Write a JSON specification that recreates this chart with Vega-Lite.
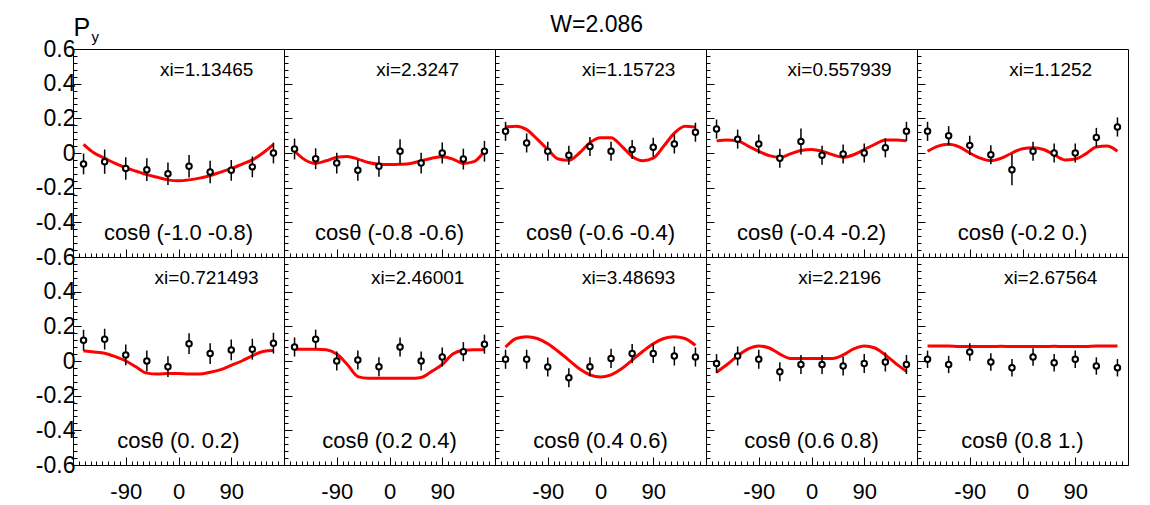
{
"$schema": "https://vega.github.io/schema/vega-lite/v6.json",
"padding": {"left": 34, "top": 13, "right": 5, "bottom": 2},
"background": "white",
"title": {"text": "W=2.086", "fontSize": 23, "fontWeight": "normal", "font": "Liberation Sans", "color": "black", "anchor": "middle", "dx": 15, "offset": -22},
"config": {"view": {"stroke": "black", "strokeWidth": 1}, "font": "Liberation Sans"},
"datasets": {
"pts": [
{"p":1,"phi":-162,"py":-0.063,"err":0.06},{"p":1,"phi":-126,"py":-0.05,"err":0.07},{"p":1,"phi":-90,"py":-0.09,"err":0.065},{"p":1,"phi":-54,"py":-0.096,"err":0.065},{"p":1,"phi":-18,"py":-0.12,"err":0.065},{"p":1,"phi":18,"py":-0.077,"err":0.065},{"p":1,"phi":54,"py":-0.11,"err":0.065},{"p":1,"phi":90,"py":-0.1,"err":0.06},{"p":1,"phi":126,"py":-0.08,"err":0.06},{"p":1,"phi":162,"py":0.0,"err":0.06},
{"p":2,"phi":-162,"py":0.023,"err":0.06},{"p":2,"phi":-126,"py":-0.033,"err":0.06},{"p":2,"phi":-90,"py":-0.058,"err":0.06},{"p":2,"phi":-54,"py":-0.1,"err":0.06},{"p":2,"phi":-18,"py":-0.077,"err":0.06},{"p":2,"phi":18,"py":0.01,"err":0.07},{"p":2,"phi":54,"py":-0.058,"err":0.06},{"p":2,"phi":90,"py":0.0,"err":0.06},{"p":2,"phi":126,"py":-0.035,"err":0.06},{"p":2,"phi":162,"py":0.01,"err":0.06},
{"p":3,"phi":-162,"py":0.125,"err":0.055},{"p":3,"phi":-126,"py":0.058,"err":0.055},{"p":3,"phi":-90,"py":0.01,"err":0.055},{"p":3,"phi":-54,"py":-0.013,"err":0.055},{"p":3,"phi":-18,"py":0.038,"err":0.055},{"p":3,"phi":18,"py":0.01,"err":0.055},{"p":3,"phi":54,"py":0.02,"err":0.055},{"p":3,"phi":90,"py":0.033,"err":0.055},{"p":3,"phi":126,"py":0.052,"err":0.055},{"p":3,"phi":162,"py":0.12,"err":0.055},
{"p":4,"phi":-162,"py":0.138,"err":0.055},{"p":4,"phi":-126,"py":0.08,"err":0.055},{"p":4,"phi":-90,"py":0.052,"err":0.055},{"p":4,"phi":-54,"py":-0.03,"err":0.055},{"p":4,"phi":-18,"py":0.067,"err":0.075},{"p":4,"phi":18,"py":-0.013,"err":0.055},{"p":4,"phi":54,"py":-0.006,"err":0.055},{"p":4,"phi":90,"py":0.0,"err":0.055},{"p":4,"phi":126,"py":0.03,"err":0.055},{"p":4,"phi":162,"py":0.125,"err":0.055},
{"p":5,"phi":-162,"py":0.125,"err":0.055},{"p":5,"phi":-126,"py":0.1,"err":0.055},{"p":5,"phi":-90,"py":0.044,"err":0.055},{"p":5,"phi":-54,"py":-0.01,"err":0.055},{"p":5,"phi":-18,"py":-0.096,"err":0.09},{"p":5,"phi":18,"py":0.01,"err":0.055},{"p":5,"phi":54,"py":0.0,"err":0.055},{"p":5,"phi":90,"py":0.0,"err":0.055},{"p":5,"phi":126,"py":0.09,"err":0.055},{"p":5,"phi":162,"py":0.15,"err":0.055},
{"p":6,"phi":-162,"py":0.12,"err":0.06},{"p":6,"phi":-126,"py":0.126,"err":0.06},{"p":6,"phi":-90,"py":0.035,"err":0.06},{"p":6,"phi":-54,"py":0.0,"err":0.06},{"p":6,"phi":-18,"py":-0.033,"err":0.06},{"p":6,"phi":18,"py":0.1,"err":0.06},{"p":6,"phi":54,"py":0.043,"err":0.06},{"p":6,"phi":90,"py":0.064,"err":0.06},{"p":6,"phi":126,"py":0.068,"err":0.06},{"p":6,"phi":162,"py":0.103,"err":0.06},
{"p":7,"phi":-162,"py":0.081,"err":0.055},{"p":7,"phi":-126,"py":0.126,"err":0.055},{"p":7,"phi":-90,"py":0.0,"err":0.055},{"p":7,"phi":-54,"py":0.006,"err":0.055},{"p":7,"phi":-18,"py":-0.033,"err":0.055},{"p":7,"phi":18,"py":0.081,"err":0.055},{"p":7,"phi":54,"py":0.0,"err":0.055},{"p":7,"phi":90,"py":0.023,"err":0.055},{"p":7,"phi":126,"py":0.054,"err":0.055},{"p":7,"phi":162,"py":0.097,"err":0.055},
{"p":8,"phi":-162,"py":0.01,"err":0.055},{"p":8,"phi":-126,"py":0.01,"err":0.055},{"p":8,"phi":-90,"py":-0.035,"err":0.055},{"p":8,"phi":-54,"py":-0.097,"err":0.055},{"p":8,"phi":-18,"py":-0.033,"err":0.055},{"p":8,"phi":18,"py":0.015,"err":0.055},{"p":8,"phi":54,"py":0.043,"err":0.055},{"p":8,"phi":90,"py":0.043,"err":0.055},{"p":8,"phi":126,"py":0.029,"err":0.055},{"p":8,"phi":162,"py":0.023,"err":0.055},
{"p":9,"phi":-162,"py":-0.015,"err":0.055},{"p":9,"phi":-126,"py":0.029,"err":0.055},{"p":9,"phi":-90,"py":0.01,"err":0.055},{"p":9,"phi":-54,"py":-0.062,"err":0.055},{"p":9,"phi":-18,"py":-0.02,"err":0.055},{"p":9,"phi":18,"py":-0.02,"err":0.055},{"p":9,"phi":54,"py":-0.029,"err":0.055},{"p":9,"phi":90,"py":-0.014,"err":0.055},{"p":9,"phi":126,"py":-0.006,"err":0.055},{"p":9,"phi":162,"py":-0.02,"err":0.055},
{"p":10,"phi":-162,"py":0.01,"err":0.05},{"p":10,"phi":-126,"py":-0.02,"err":0.05},{"p":10,"phi":-90,"py":0.052,"err":0.05},{"p":10,"phi":-54,"py":-0.006,"err":0.05},{"p":10,"phi":-18,"py":-0.039,"err":0.05},{"p":10,"phi":18,"py":0.023,"err":0.05},{"p":10,"phi":54,"py":-0.01,"err":0.05},{"p":10,"phi":90,"py":0.01,"err":0.05},{"p":10,"phi":126,"py":-0.029,"err":0.05},{"p":10,"phi":162,"py":-0.039,"err":0.05}
],
"fit": [
{"p":1,"phi":-162,"py":0.05},{"p":1,"phi":-144,"py":0.0},{"p":1,"phi":-126,"py":-0.03},{"p":1,"phi":-108,"py":-0.06},{"p":1,"phi":-90,"py":-0.085},{"p":1,"phi":-72,"py":-0.105},{"p":1,"phi":-54,"py":-0.125},{"p":1,"phi":-36,"py":-0.14},{"p":1,"phi":-18,"py":-0.155},{"p":1,"phi":0,"py":-0.16},{"p":1,"phi":18,"py":-0.155},{"p":1,"phi":36,"py":-0.145},{"p":1,"phi":54,"py":-0.13},{"p":1,"phi":72,"py":-0.11},{"p":1,"phi":90,"py":-0.09},{"p":1,"phi":108,"py":-0.065},{"p":1,"phi":126,"py":-0.04},{"p":1,"phi":144,"py":0.0},{"p":1,"phi":162,"py":0.05},
{"p":2,"phi":-162,"py":0.01},{"p":2,"phi":-144,"py":-0.04},{"p":2,"phi":-126,"py":-0.06},{"p":2,"phi":-108,"py":-0.045},{"p":2,"phi":-90,"py":-0.025},{"p":2,"phi":-72,"py":-0.02},{"p":2,"phi":-54,"py":-0.035},{"p":2,"phi":-36,"py":-0.055},{"p":2,"phi":-18,"py":-0.065},{"p":2,"phi":0,"py":-0.067},{"p":2,"phi":18,"py":-0.065},{"p":2,"phi":36,"py":-0.06},{"p":2,"phi":54,"py":-0.045},{"p":2,"phi":72,"py":-0.03},{"p":2,"phi":90,"py":-0.022},{"p":2,"phi":108,"py":-0.035},{"p":2,"phi":126,"py":-0.06},{"p":2,"phi":144,"py":-0.05},{"p":2,"phi":162,"py":0.01},
{"p":3,"phi":-162,"py":0.15},{"p":3,"phi":-144,"py":0.155},{"p":3,"phi":-126,"py":0.135},{"p":3,"phi":-108,"py":0.08},{"p":3,"phi":-90,"py":0.02},{"p":3,"phi":-72,"py":-0.035},{"p":3,"phi":-54,"py":-0.042},{"p":3,"phi":-36,"py":0.0},{"p":3,"phi":-18,"py":0.06},{"p":3,"phi":0,"py":0.088},{"p":3,"phi":18,"py":0.088},{"p":3,"phi":36,"py":0.04},{"p":3,"phi":54,"py":-0.02},{"p":3,"phi":72,"py":-0.044},{"p":3,"phi":90,"py":-0.03},{"p":3,"phi":108,"py":0.04},{"p":3,"phi":126,"py":0.115},{"p":3,"phi":144,"py":0.155},{"p":3,"phi":162,"py":0.15},
{"p":4,"phi":-162,"py":0.07},{"p":4,"phi":-144,"py":0.075},{"p":4,"phi":-126,"py":0.07},{"p":4,"phi":-108,"py":0.04},{"p":4,"phi":-90,"py":0.01},{"p":4,"phi":-72,"py":-0.015},{"p":4,"phi":-54,"py":-0.025},{"p":4,"phi":-36,"py":-0.005},{"p":4,"phi":-18,"py":0.015},{"p":4,"phi":0,"py":0.02},{"p":4,"phi":18,"py":0.01},{"p":4,"phi":36,"py":-0.01},{"p":4,"phi":54,"py":-0.025},{"p":4,"phi":72,"py":-0.01},{"p":4,"phi":90,"py":0.02},{"p":4,"phi":108,"py":0.05},{"p":4,"phi":126,"py":0.075},{"p":4,"phi":144,"py":0.075},{"p":4,"phi":162,"py":0.07},
{"p":5,"phi":-162,"py":0.01},{"p":5,"phi":-144,"py":0.04},{"p":5,"phi":-126,"py":0.05},{"p":5,"phi":-108,"py":0.035},{"p":5,"phi":-90,"py":0.0},{"p":5,"phi":-72,"py":-0.03},{"p":5,"phi":-54,"py":-0.045},{"p":5,"phi":-36,"py":-0.03},{"p":5,"phi":-18,"py":0.0},{"p":5,"phi":0,"py":0.025},{"p":5,"phi":18,"py":0.03},{"p":5,"phi":36,"py":0.02},{"p":5,"phi":54,"py":-0.01},{"p":5,"phi":72,"py":-0.04},{"p":5,"phi":90,"py":-0.035},{"p":5,"phi":108,"py":-0.005},{"p":5,"phi":126,"py":0.035},{"p":5,"phi":144,"py":0.04},{"p":5,"phi":162,"py":0.01},
{"p":6,"phi":-162,"py":0.058},{"p":6,"phi":-144,"py":0.052},{"p":6,"phi":-126,"py":0.045},{"p":6,"phi":-108,"py":0.025},{"p":6,"phi":-90,"py":0.0},{"p":6,"phi":-72,"py":-0.035},{"p":6,"phi":-54,"py":-0.07},{"p":6,"phi":-36,"py":-0.075},{"p":6,"phi":-18,"py":-0.072},{"p":6,"phi":0,"py":-0.072},{"p":6,"phi":18,"py":-0.075},{"p":6,"phi":36,"py":-0.075},{"p":6,"phi":54,"py":-0.065},{"p":6,"phi":72,"py":-0.05},{"p":6,"phi":90,"py":-0.025},{"p":6,"phi":108,"py":0.0},{"p":6,"phi":126,"py":0.03},{"p":6,"phi":144,"py":0.055},{"p":6,"phi":162,"py":0.06},
{"p":7,"phi":-162,"py":0.068},{"p":7,"phi":-144,"py":0.068},{"p":7,"phi":-126,"py":0.068},{"p":7,"phi":-108,"py":0.065},{"p":7,"phi":-90,"py":0.04},{"p":7,"phi":-72,"py":-0.02},{"p":7,"phi":-54,"py":-0.09},{"p":7,"phi":-36,"py":-0.1},{"p":7,"phi":-18,"py":-0.1},{"p":7,"phi":0,"py":-0.1},{"p":7,"phi":18,"py":-0.1},{"p":7,"phi":36,"py":-0.1},{"p":7,"phi":54,"py":-0.095},{"p":7,"phi":72,"py":-0.06},{"p":7,"phi":90,"py":-0.02},{"p":7,"phi":108,"py":0.04},{"p":7,"phi":126,"py":0.062},{"p":7,"phi":144,"py":0.065},{"p":7,"phi":162,"py":0.065},
{"p":8,"phi":-162,"py":0.08},{"p":8,"phi":-144,"py":0.13},{"p":8,"phi":-126,"py":0.14},{"p":8,"phi":-108,"py":0.13},{"p":8,"phi":-90,"py":0.1},{"p":8,"phi":-72,"py":0.055},{"p":8,"phi":-54,"py":0.005},{"p":8,"phi":-36,"py":-0.045},{"p":8,"phi":-18,"py":-0.08},{"p":8,"phi":0,"py":-0.093},{"p":8,"phi":18,"py":-0.08},{"p":8,"phi":36,"py":-0.045},{"p":8,"phi":54,"py":0.005},{"p":8,"phi":72,"py":0.055},{"p":8,"phi":90,"py":0.1},{"p":8,"phi":108,"py":0.13},{"p":8,"phi":126,"py":0.14},{"p":8,"phi":144,"py":0.13},{"p":8,"phi":162,"py":0.09},
{"p":9,"phi":-162,"py":-0.065},{"p":9,"phi":-144,"py":-0.02},{"p":9,"phi":-126,"py":0.03},{"p":9,"phi":-108,"py":0.07},{"p":9,"phi":-90,"py":0.087},{"p":9,"phi":-72,"py":0.075},{"p":9,"phi":-54,"py":0.04},{"p":9,"phi":-36,"py":0.015},{"p":9,"phi":-18,"py":0.015},{"p":9,"phi":0,"py":0.015},{"p":9,"phi":18,"py":0.015},{"p":9,"phi":36,"py":0.015},{"p":9,"phi":54,"py":0.035},{"p":9,"phi":72,"py":0.07},{"p":9,"phi":90,"py":0.087},{"p":9,"phi":108,"py":0.075},{"p":9,"phi":126,"py":0.035},{"p":9,"phi":144,"py":-0.015},{"p":9,"phi":162,"py":-0.06},
{"p":10,"phi":-162,"py":0.087},{"p":10,"phi":-144,"py":0.087},{"p":10,"phi":-126,"py":0.087},{"p":10,"phi":-108,"py":0.083},{"p":10,"phi":-90,"py":0.083},{"p":10,"phi":-72,"py":0.083},{"p":10,"phi":-54,"py":0.083},{"p":10,"phi":-36,"py":0.085},{"p":10,"phi":-18,"py":0.083},{"p":10,"phi":0,"py":0.083},{"p":10,"phi":18,"py":0.083},{"p":10,"phi":36,"py":0.083},{"p":10,"phi":54,"py":0.085},{"p":10,"phi":72,"py":0.083},{"p":10,"phi":90,"py":0.083},{"p":10,"phi":108,"py":0.083},{"p":10,"phi":126,"py":0.087},{"p":10,"phi":144,"py":0.087},{"p":10,"phi":162,"py":0.087}
],
"lab": [
{"p":1,"xi":"xi=1.13465","cos":"cosθ (-1.0 -0.8)"},
{"p":2,"xi":"xi=2.3247","cos":"cosθ (-0.8 -0.6)"},
{"p":3,"xi":"xi=1.15723","cos":"cosθ (-0.6 -0.4)"},
{"p":4,"xi":"xi=0.557939","cos":"cosθ (-0.4 -0.2)"},
{"p":5,"xi":"xi=1.1252","cos":"cosθ (-0.2  0.)"},
{"p":6,"xi":"xi=0.721493","cos":"cosθ (0. 0.2)"},
{"p":7,"xi":"xi=2.46001","cos":"cosθ (0.2 0.4)"},
{"p":8,"xi":"xi=3.48693","cos":"cosθ (0.4 0.6)"},
{"p":9,"xi":"xi=2.2196","cos":"cosθ (0.6 0.8)"},
{"p":10,"xi":"xi=2.67564","cos":"cosθ (0.8  1.)"}
]
},
"columns": 5,
"spacing": 0,
"bounds": "flush",
"concat": [
{"width": 211, "height": 208, "resolve": {"axis": {"x": "independent", "y": "independent"}}, "layer": [
{"data": {"name": "fit"}, "transform": [{"filter": "datum.p == 1"}], "mark": {"type": "line", "color": "#ff0000", "strokeWidth": 3, "interpolate": "monotone"},
 "encoding": {"x": {"field": "phi", "type": "quantitative", "scale": {"domain": [-180, 180], "nice": false, "zero": false}, "axis": {"orient": "bottom", "values": [-90, 0, 90], "tickSize": -8, "tickColor": "black", "domainColor": "black", "labels": false, "grid": false, "title": null}},
  "y": {"field": "py", "type": "quantitative", "scale": {"domain": [-0.6, 0.6], "nice": false, "zero": false}, "axis": {"orient": "left", "values": [-0.6, -0.4, -0.2, 0, 0.2, 0.4, 0.6], "tickSize": -8, "tickColor": "black", "domainColor": "black", "labels": true, "labelFontSize": 23, "labelFont": "Liberation Sans", "labelColor": "black", "labelPadding": 6, "labelOverlap": false, "labelExpr": "replace(format(datum.value, '~g'), '\u2212', '-')", "grid": false, "title": "P", "titleAngle": 0, "titleX": 0, "titleY": -14, "titleAlign": "left", "titleBaseline": "alphabetic", "titleFontSize": 25, "titleFont": "Liberation Sans", "titleFontWeight": "normal", "titleColor": "black"}}}},
{"data": {"name": "pts"}, "transform": [{"filter": "datum.p == 1"}], "mark": {"type": "errorbar", "color": "black", "thickness": 1.5},
 "encoding": {"x": {"field": "phi", "type": "quantitative", "axis": null}, "y": {"field": "py", "type": "quantitative", "axis": null}, "yError": {"field": "err"}}},
{"data": {"name": "pts"}, "transform": [{"filter": "datum.p == 1"}], "mark": {"type": "point", "shape": "circle", "filled": true, "fill": "white", "stroke": "black", "strokeWidth": 2, "size": 30, "opacity": 1},
 "encoding": {"x": {"field": "phi", "type": "quantitative", "axis": {"orient": "bottom", "values": [-170,-160,-150,-140,-130,-120,-110,-100,-90,-80,-70,-60,-50,-40,-30,-20,-10,0,10,20,30,40,50,60,70,80,90,100,110,120,130,140,150,160,170], "tickSize": -4, "tickColor": "black", "domain": false, "labels": false, "grid": false, "title": null}},
  "y": {"field": "py", "type": "quantitative", "axis": {"orient": "left", "values": [-0.56,-0.52,-0.48,-0.44,-0.4,-0.36,-0.32,-0.28,-0.24,-0.2,-0.16,-0.12,-0.08,-0.04,0,0.04,0.08,0.12,0.16,0.2,0.24,0.28,0.32,0.36,0.4,0.44,0.48,0.52,0.56], "tickSize": -4, "tickColor": "black", "domain": false, "labels": false, "grid": false, "title": "y", "titleAngle": 0, "titleX": 18, "titleY": -8, "titleAlign": "left", "titleBaseline": "alphabetic", "titleFontSize": 15, "titleFont": "Liberation Sans", "titleFontWeight": "normal", "titleColor": "black"}}}},
{"data": {"name": "lab"}, "transform": [{"filter": "datum.p == 1"}], "mark": {"type": "text", "fontSize": 19, "font": "Liberation Sans", "color": "black", "baseline": "middle"},
 "encoding": {"x": {"datum": 48, "type": "quantitative", "axis": null}, "y": {"datum": 0.48, "type": "quantitative", "axis": null}, "text": {"field": "xi"}}},
{"data": {"name": "lab"}, "transform": [{"filter": "datum.p == 1"}], "mark": {"type": "text", "fontSize": 22, "font": "Liberation Sans", "color": "black", "baseline": "middle"},
 "encoding": {"x": {"datum": 0, "type": "quantitative", "axis": null}, "y": {"datum": -0.46, "type": "quantitative", "axis": null}, "text": {"field": "cos"}}}
]},
{"width": 211, "height": 208, "resolve": {"axis": {"x": "independent", "y": "independent"}}, "layer": [
{"data": {"name": "fit"}, "transform": [{"filter": "datum.p == 2"}], "mark": {"type": "line", "color": "#ff0000", "strokeWidth": 3, "interpolate": "monotone"},
 "encoding": {"x": {"field": "phi", "type": "quantitative", "scale": {"domain": [-180, 180], "nice": false, "zero": false}, "axis": {"orient": "bottom", "values": [-90, 0, 90], "tickSize": -8, "tickColor": "black", "domainColor": "black", "labels": false, "grid": false, "title": null}},
  "y": {"field": "py", "type": "quantitative", "scale": {"domain": [-0.6, 0.6], "nice": false, "zero": false}, "axis": {"orient": "left", "values": [-0.6, -0.4, -0.2, 0, 0.2, 0.4, 0.6], "tickSize": -8, "tickColor": "black", "domainColor": "black", "labels": false, "grid": false, "title": null}}}},
{"data": {"name": "pts"}, "transform": [{"filter": "datum.p == 2"}], "mark": {"type": "errorbar", "color": "black", "thickness": 1.5},
 "encoding": {"x": {"field": "phi", "type": "quantitative", "axis": null}, "y": {"field": "py", "type": "quantitative", "axis": null}, "yError": {"field": "err"}}},
{"data": {"name": "pts"}, "transform": [{"filter": "datum.p == 2"}], "mark": {"type": "point", "shape": "circle", "filled": true, "fill": "white", "stroke": "black", "strokeWidth": 2, "size": 30, "opacity": 1},
 "encoding": {"x": {"field": "phi", "type": "quantitative", "axis": {"orient": "bottom", "values": [-170,-160,-150,-140,-130,-120,-110,-100,-90,-80,-70,-60,-50,-40,-30,-20,-10,0,10,20,30,40,50,60,70,80,90,100,110,120,130,140,150,160,170], "tickSize": -4, "tickColor": "black", "domain": false, "labels": false, "grid": false, "title": null}},
  "y": {"field": "py", "type": "quantitative", "axis": {"orient": "left", "values": [-0.56,-0.52,-0.48,-0.44,-0.4,-0.36,-0.32,-0.28,-0.24,-0.2,-0.16,-0.12,-0.08,-0.04,0,0.04,0.08,0.12,0.16,0.2,0.24,0.28,0.32,0.36,0.4,0.44,0.48,0.52,0.56], "tickSize": -4, "tickColor": "black", "domain": false, "labels": false, "grid": false, "title": null}}}},
{"data": {"name": "lab"}, "transform": [{"filter": "datum.p == 2"}], "mark": {"type": "text", "fontSize": 19, "font": "Liberation Sans", "color": "black", "baseline": "middle"},
 "encoding": {"x": {"datum": 48, "type": "quantitative", "axis": null}, "y": {"datum": 0.48, "type": "quantitative", "axis": null}, "text": {"field": "xi"}}},
{"data": {"name": "lab"}, "transform": [{"filter": "datum.p == 2"}], "mark": {"type": "text", "fontSize": 22, "font": "Liberation Sans", "color": "black", "baseline": "middle"},
 "encoding": {"x": {"datum": 0, "type": "quantitative", "axis": null}, "y": {"datum": -0.46, "type": "quantitative", "axis": null}, "text": {"field": "cos"}}}
]},
{"width": 211, "height": 208, "resolve": {"axis": {"x": "independent", "y": "independent"}}, "layer": [
{"data": {"name": "fit"}, "transform": [{"filter": "datum.p == 3"}], "mark": {"type": "line", "color": "#ff0000", "strokeWidth": 3, "interpolate": "monotone"},
 "encoding": {"x": {"field": "phi", "type": "quantitative", "scale": {"domain": [-180, 180], "nice": false, "zero": false}, "axis": {"orient": "bottom", "values": [-90, 0, 90], "tickSize": -8, "tickColor": "black", "domainColor": "black", "labels": false, "grid": false, "title": null}},
  "y": {"field": "py", "type": "quantitative", "scale": {"domain": [-0.6, 0.6], "nice": false, "zero": false}, "axis": {"orient": "left", "values": [-0.6, -0.4, -0.2, 0, 0.2, 0.4, 0.6], "tickSize": -8, "tickColor": "black", "domainColor": "black", "labels": false, "grid": false, "title": null}}}},
{"data": {"name": "pts"}, "transform": [{"filter": "datum.p == 3"}], "mark": {"type": "errorbar", "color": "black", "thickness": 1.5},
 "encoding": {"x": {"field": "phi", "type": "quantitative", "axis": null}, "y": {"field": "py", "type": "quantitative", "axis": null}, "yError": {"field": "err"}}},
{"data": {"name": "pts"}, "transform": [{"filter": "datum.p == 3"}], "mark": {"type": "point", "shape": "circle", "filled": true, "fill": "white", "stroke": "black", "strokeWidth": 2, "size": 30, "opacity": 1},
 "encoding": {"x": {"field": "phi", "type": "quantitative", "axis": {"orient": "bottom", "values": [-170,-160,-150,-140,-130,-120,-110,-100,-90,-80,-70,-60,-50,-40,-30,-20,-10,0,10,20,30,40,50,60,70,80,90,100,110,120,130,140,150,160,170], "tickSize": -4, "tickColor": "black", "domain": false, "labels": false, "grid": false, "title": null}},
  "y": {"field": "py", "type": "quantitative", "axis": {"orient": "left", "values": [-0.56,-0.52,-0.48,-0.44,-0.4,-0.36,-0.32,-0.28,-0.24,-0.2,-0.16,-0.12,-0.08,-0.04,0,0.04,0.08,0.12,0.16,0.2,0.24,0.28,0.32,0.36,0.4,0.44,0.48,0.52,0.56], "tickSize": -4, "tickColor": "black", "domain": false, "labels": false, "grid": false, "title": null}}}},
{"data": {"name": "lab"}, "transform": [{"filter": "datum.p == 3"}], "mark": {"type": "text", "fontSize": 19, "font": "Liberation Sans", "color": "black", "baseline": "middle"},
 "encoding": {"x": {"datum": 48, "type": "quantitative", "axis": null}, "y": {"datum": 0.48, "type": "quantitative", "axis": null}, "text": {"field": "xi"}}},
{"data": {"name": "lab"}, "transform": [{"filter": "datum.p == 3"}], "mark": {"type": "text", "fontSize": 22, "font": "Liberation Sans", "color": "black", "baseline": "middle"},
 "encoding": {"x": {"datum": 0, "type": "quantitative", "axis": null}, "y": {"datum": -0.46, "type": "quantitative", "axis": null}, "text": {"field": "cos"}}}
]},
{"width": 211, "height": 208, "resolve": {"axis": {"x": "independent", "y": "independent"}}, "layer": [
{"data": {"name": "fit"}, "transform": [{"filter": "datum.p == 4"}], "mark": {"type": "line", "color": "#ff0000", "strokeWidth": 3, "interpolate": "monotone"},
 "encoding": {"x": {"field": "phi", "type": "quantitative", "scale": {"domain": [-180, 180], "nice": false, "zero": false}, "axis": {"orient": "bottom", "values": [-90, 0, 90], "tickSize": -8, "tickColor": "black", "domainColor": "black", "labels": false, "grid": false, "title": null}},
  "y": {"field": "py", "type": "quantitative", "scale": {"domain": [-0.6, 0.6], "nice": false, "zero": false}, "axis": {"orient": "left", "values": [-0.6, -0.4, -0.2, 0, 0.2, 0.4, 0.6], "tickSize": -8, "tickColor": "black", "domainColor": "black", "labels": false, "grid": false, "title": null}}}},
{"data": {"name": "pts"}, "transform": [{"filter": "datum.p == 4"}], "mark": {"type": "errorbar", "color": "black", "thickness": 1.5},
 "encoding": {"x": {"field": "phi", "type": "quantitative", "axis": null}, "y": {"field": "py", "type": "quantitative", "axis": null}, "yError": {"field": "err"}}},
{"data": {"name": "pts"}, "transform": [{"filter": "datum.p == 4"}], "mark": {"type": "point", "shape": "circle", "filled": true, "fill": "white", "stroke": "black", "strokeWidth": 2, "size": 30, "opacity": 1},
 "encoding": {"x": {"field": "phi", "type": "quantitative", "axis": {"orient": "bottom", "values": [-170,-160,-150,-140,-130,-120,-110,-100,-90,-80,-70,-60,-50,-40,-30,-20,-10,0,10,20,30,40,50,60,70,80,90,100,110,120,130,140,150,160,170], "tickSize": -4, "tickColor": "black", "domain": false, "labels": false, "grid": false, "title": null}},
  "y": {"field": "py", "type": "quantitative", "axis": {"orient": "left", "values": [-0.56,-0.52,-0.48,-0.44,-0.4,-0.36,-0.32,-0.28,-0.24,-0.2,-0.16,-0.12,-0.08,-0.04,0,0.04,0.08,0.12,0.16,0.2,0.24,0.28,0.32,0.36,0.4,0.44,0.48,0.52,0.56], "tickSize": -4, "tickColor": "black", "domain": false, "labels": false, "grid": false, "title": null}}}},
{"data": {"name": "lab"}, "transform": [{"filter": "datum.p == 4"}], "mark": {"type": "text", "fontSize": 19, "font": "Liberation Sans", "color": "black", "baseline": "middle"},
 "encoding": {"x": {"datum": 48, "type": "quantitative", "axis": null}, "y": {"datum": 0.48, "type": "quantitative", "axis": null}, "text": {"field": "xi"}}},
{"data": {"name": "lab"}, "transform": [{"filter": "datum.p == 4"}], "mark": {"type": "text", "fontSize": 22, "font": "Liberation Sans", "color": "black", "baseline": "middle"},
 "encoding": {"x": {"datum": 0, "type": "quantitative", "axis": null}, "y": {"datum": -0.46, "type": "quantitative", "axis": null}, "text": {"field": "cos"}}}
]},
{"width": 211, "height": 208, "resolve": {"axis": {"x": "independent", "y": "independent"}}, "layer": [
{"data": {"name": "fit"}, "transform": [{"filter": "datum.p == 5"}], "mark": {"type": "line", "color": "#ff0000", "strokeWidth": 3, "interpolate": "monotone"},
 "encoding": {"x": {"field": "phi", "type": "quantitative", "scale": {"domain": [-180, 180], "nice": false, "zero": false}, "axis": {"orient": "bottom", "values": [-90, 0, 90], "tickSize": -8, "tickColor": "black", "domainColor": "black", "labels": false, "grid": false, "title": null}},
  "y": {"field": "py", "type": "quantitative", "scale": {"domain": [-0.6, 0.6], "nice": false, "zero": false}, "axis": {"orient": "left", "values": [-0.6, -0.4, -0.2, 0, 0.2, 0.4, 0.6], "tickSize": -8, "tickColor": "black", "domainColor": "black", "labels": false, "grid": false, "title": null}}}},
{"data": {"name": "pts"}, "transform": [{"filter": "datum.p == 5"}], "mark": {"type": "errorbar", "color": "black", "thickness": 1.5},
 "encoding": {"x": {"field": "phi", "type": "quantitative", "axis": null}, "y": {"field": "py", "type": "quantitative", "axis": null}, "yError": {"field": "err"}}},
{"data": {"name": "pts"}, "transform": [{"filter": "datum.p == 5"}], "mark": {"type": "point", "shape": "circle", "filled": true, "fill": "white", "stroke": "black", "strokeWidth": 2, "size": 30, "opacity": 1},
 "encoding": {"x": {"field": "phi", "type": "quantitative", "axis": {"orient": "bottom", "values": [-170,-160,-150,-140,-130,-120,-110,-100,-90,-80,-70,-60,-50,-40,-30,-20,-10,0,10,20,30,40,50,60,70,80,90,100,110,120,130,140,150,160,170], "tickSize": -4, "tickColor": "black", "domain": false, "labels": false, "grid": false, "title": null}},
  "y": {"field": "py", "type": "quantitative", "axis": {"orient": "left", "values": [-0.56,-0.52,-0.48,-0.44,-0.4,-0.36,-0.32,-0.28,-0.24,-0.2,-0.16,-0.12,-0.08,-0.04,0,0.04,0.08,0.12,0.16,0.2,0.24,0.28,0.32,0.36,0.4,0.44,0.48,0.52,0.56], "tickSize": -4, "tickColor": "black", "domain": false, "labels": false, "grid": false, "title": null}}}},
{"data": {"name": "lab"}, "transform": [{"filter": "datum.p == 5"}], "mark": {"type": "text", "fontSize": 19, "font": "Liberation Sans", "color": "black", "baseline": "middle"},
 "encoding": {"x": {"datum": 48, "type": "quantitative", "axis": null}, "y": {"datum": 0.48, "type": "quantitative", "axis": null}, "text": {"field": "xi"}}},
{"data": {"name": "lab"}, "transform": [{"filter": "datum.p == 5"}], "mark": {"type": "text", "fontSize": 22, "font": "Liberation Sans", "color": "black", "baseline": "middle"},
 "encoding": {"x": {"datum": 0, "type": "quantitative", "axis": null}, "y": {"datum": -0.46, "type": "quantitative", "axis": null}, "text": {"field": "cos"}}}
]},
{"width": 211, "height": 208, "resolve": {"axis": {"x": "independent", "y": "independent"}}, "layer": [
{"data": {"name": "fit"}, "transform": [{"filter": "datum.p == 6"}], "mark": {"type": "line", "color": "#ff0000", "strokeWidth": 3, "interpolate": "monotone"},
 "encoding": {"x": {"field": "phi", "type": "quantitative", "scale": {"domain": [-180, 180], "nice": false, "zero": false}, "axis": {"orient": "bottom", "values": [-90, 0, 90], "tickSize": -8, "tickColor": "black", "domainColor": "black", "labels": true, "labelFontSize": 22, "labelFont": "Liberation Sans", "labelColor": "black", "labelPadding": 24, "labelFlush": false, "labelExpr": "replace(format(datum.value, '~g'), '\u2212', '-')", "grid": false, "title": null}},
  "y": {"field": "py", "type": "quantitative", "scale": {"domain": [-0.6, 0.6], "nice": false, "zero": false}, "axis": {"orient": "left", "values": [-0.6, -0.4, -0.2, 0, 0.2, 0.4, 0.6], "tickSize": -8, "tickColor": "black", "domainColor": "black", "labels": true, "labelFontSize": 23, "labelFont": "Liberation Sans", "labelColor": "black", "labelPadding": 6, "labelOverlap": false, "labelExpr": "datum.value > 0.5 ? '' : replace(format(datum.value, '~g'), '\u2212', '-')", "grid": false, "title": null}}}},
{"data": {"name": "pts"}, "transform": [{"filter": "datum.p == 6"}], "mark": {"type": "errorbar", "color": "black", "thickness": 1.5},
 "encoding": {"x": {"field": "phi", "type": "quantitative", "axis": null}, "y": {"field": "py", "type": "quantitative", "axis": null}, "yError": {"field": "err"}}},
{"data": {"name": "pts"}, "transform": [{"filter": "datum.p == 6"}], "mark": {"type": "point", "shape": "circle", "filled": true, "fill": "white", "stroke": "black", "strokeWidth": 2, "size": 30, "opacity": 1},
 "encoding": {"x": {"field": "phi", "type": "quantitative", "axis": {"orient": "bottom", "values": [-170,-160,-150,-140,-130,-120,-110,-100,-90,-80,-70,-60,-50,-40,-30,-20,-10,0,10,20,30,40,50,60,70,80,90,100,110,120,130,140,150,160,170], "tickSize": -4, "tickColor": "black", "domain": false, "labels": false, "grid": false, "title": null}},
  "y": {"field": "py", "type": "quantitative", "axis": {"orient": "left", "values": [-0.56,-0.52,-0.48,-0.44,-0.4,-0.36,-0.32,-0.28,-0.24,-0.2,-0.16,-0.12,-0.08,-0.04,0,0.04,0.08,0.12,0.16,0.2,0.24,0.28,0.32,0.36,0.4,0.44,0.48,0.52,0.56], "tickSize": -4, "tickColor": "black", "domain": false, "labels": false, "grid": false, "title": null}}}},
{"data": {"name": "lab"}, "transform": [{"filter": "datum.p == 6"}], "mark": {"type": "text", "fontSize": 19, "font": "Liberation Sans", "color": "black", "baseline": "middle"},
 "encoding": {"x": {"datum": 48, "type": "quantitative", "axis": null}, "y": {"datum": 0.48, "type": "quantitative", "axis": null}, "text": {"field": "xi"}}},
{"data": {"name": "lab"}, "transform": [{"filter": "datum.p == 6"}], "mark": {"type": "text", "fontSize": 22, "font": "Liberation Sans", "color": "black", "baseline": "middle"},
 "encoding": {"x": {"datum": 0, "type": "quantitative", "axis": null}, "y": {"datum": -0.46, "type": "quantitative", "axis": null}, "text": {"field": "cos"}}}
]},
{"width": 211, "height": 208, "resolve": {"axis": {"x": "independent", "y": "independent"}}, "layer": [
{"data": {"name": "fit"}, "transform": [{"filter": "datum.p == 7"}], "mark": {"type": "line", "color": "#ff0000", "strokeWidth": 3, "interpolate": "monotone"},
 "encoding": {"x": {"field": "phi", "type": "quantitative", "scale": {"domain": [-180, 180], "nice": false, "zero": false}, "axis": {"orient": "bottom", "values": [-90, 0, 90], "tickSize": -8, "tickColor": "black", "domainColor": "black", "labels": true, "labelFontSize": 22, "labelFont": "Liberation Sans", "labelColor": "black", "labelPadding": 24, "labelFlush": false, "labelExpr": "replace(format(datum.value, '~g'), '\u2212', '-')", "grid": false, "title": null}},
  "y": {"field": "py", "type": "quantitative", "scale": {"domain": [-0.6, 0.6], "nice": false, "zero": false}, "axis": {"orient": "left", "values": [-0.6, -0.4, -0.2, 0, 0.2, 0.4, 0.6], "tickSize": -8, "tickColor": "black", "domainColor": "black", "labels": false, "grid": false, "title": null}}}},
{"data": {"name": "pts"}, "transform": [{"filter": "datum.p == 7"}], "mark": {"type": "errorbar", "color": "black", "thickness": 1.5},
 "encoding": {"x": {"field": "phi", "type": "quantitative", "axis": null}, "y": {"field": "py", "type": "quantitative", "axis": null}, "yError": {"field": "err"}}},
{"data": {"name": "pts"}, "transform": [{"filter": "datum.p == 7"}], "mark": {"type": "point", "shape": "circle", "filled": true, "fill": "white", "stroke": "black", "strokeWidth": 2, "size": 30, "opacity": 1},
 "encoding": {"x": {"field": "phi", "type": "quantitative", "axis": {"orient": "bottom", "values": [-170,-160,-150,-140,-130,-120,-110,-100,-90,-80,-70,-60,-50,-40,-30,-20,-10,0,10,20,30,40,50,60,70,80,90,100,110,120,130,140,150,160,170], "tickSize": -4, "tickColor": "black", "domain": false, "labels": false, "grid": false, "title": null}},
  "y": {"field": "py", "type": "quantitative", "axis": {"orient": "left", "values": [-0.56,-0.52,-0.48,-0.44,-0.4,-0.36,-0.32,-0.28,-0.24,-0.2,-0.16,-0.12,-0.08,-0.04,0,0.04,0.08,0.12,0.16,0.2,0.24,0.28,0.32,0.36,0.4,0.44,0.48,0.52,0.56], "tickSize": -4, "tickColor": "black", "domain": false, "labels": false, "grid": false, "title": null}}}},
{"data": {"name": "lab"}, "transform": [{"filter": "datum.p == 7"}], "mark": {"type": "text", "fontSize": 19, "font": "Liberation Sans", "color": "black", "baseline": "middle"},
 "encoding": {"x": {"datum": 48, "type": "quantitative", "axis": null}, "y": {"datum": 0.48, "type": "quantitative", "axis": null}, "text": {"field": "xi"}}},
{"data": {"name": "lab"}, "transform": [{"filter": "datum.p == 7"}], "mark": {"type": "text", "fontSize": 22, "font": "Liberation Sans", "color": "black", "baseline": "middle"},
 "encoding": {"x": {"datum": 0, "type": "quantitative", "axis": null}, "y": {"datum": -0.46, "type": "quantitative", "axis": null}, "text": {"field": "cos"}}}
]},
{"width": 211, "height": 208, "resolve": {"axis": {"x": "independent", "y": "independent"}}, "layer": [
{"data": {"name": "fit"}, "transform": [{"filter": "datum.p == 8"}], "mark": {"type": "line", "color": "#ff0000", "strokeWidth": 3, "interpolate": "monotone"},
 "encoding": {"x": {"field": "phi", "type": "quantitative", "scale": {"domain": [-180, 180], "nice": false, "zero": false}, "axis": {"orient": "bottom", "values": [-90, 0, 90], "tickSize": -8, "tickColor": "black", "domainColor": "black", "labels": true, "labelFontSize": 22, "labelFont": "Liberation Sans", "labelColor": "black", "labelPadding": 24, "labelFlush": false, "labelExpr": "replace(format(datum.value, '~g'), '\u2212', '-')", "grid": false, "title": null}},
  "y": {"field": "py", "type": "quantitative", "scale": {"domain": [-0.6, 0.6], "nice": false, "zero": false}, "axis": {"orient": "left", "values": [-0.6, -0.4, -0.2, 0, 0.2, 0.4, 0.6], "tickSize": -8, "tickColor": "black", "domainColor": "black", "labels": false, "grid": false, "title": null}}}},
{"data": {"name": "pts"}, "transform": [{"filter": "datum.p == 8"}], "mark": {"type": "errorbar", "color": "black", "thickness": 1.5},
 "encoding": {"x": {"field": "phi", "type": "quantitative", "axis": null}, "y": {"field": "py", "type": "quantitative", "axis": null}, "yError": {"field": "err"}}},
{"data": {"name": "pts"}, "transform": [{"filter": "datum.p == 8"}], "mark": {"type": "point", "shape": "circle", "filled": true, "fill": "white", "stroke": "black", "strokeWidth": 2, "size": 30, "opacity": 1},
 "encoding": {"x": {"field": "phi", "type": "quantitative", "axis": {"orient": "bottom", "values": [-170,-160,-150,-140,-130,-120,-110,-100,-90,-80,-70,-60,-50,-40,-30,-20,-10,0,10,20,30,40,50,60,70,80,90,100,110,120,130,140,150,160,170], "tickSize": -4, "tickColor": "black", "domain": false, "labels": false, "grid": false, "title": null}},
  "y": {"field": "py", "type": "quantitative", "axis": {"orient": "left", "values": [-0.56,-0.52,-0.48,-0.44,-0.4,-0.36,-0.32,-0.28,-0.24,-0.2,-0.16,-0.12,-0.08,-0.04,0,0.04,0.08,0.12,0.16,0.2,0.24,0.28,0.32,0.36,0.4,0.44,0.48,0.52,0.56], "tickSize": -4, "tickColor": "black", "domain": false, "labels": false, "grid": false, "title": null}}}},
{"data": {"name": "lab"}, "transform": [{"filter": "datum.p == 8"}], "mark": {"type": "text", "fontSize": 19, "font": "Liberation Sans", "color": "black", "baseline": "middle"},
 "encoding": {"x": {"datum": 48, "type": "quantitative", "axis": null}, "y": {"datum": 0.48, "type": "quantitative", "axis": null}, "text": {"field": "xi"}}},
{"data": {"name": "lab"}, "transform": [{"filter": "datum.p == 8"}], "mark": {"type": "text", "fontSize": 22, "font": "Liberation Sans", "color": "black", "baseline": "middle"},
 "encoding": {"x": {"datum": 0, "type": "quantitative", "axis": null}, "y": {"datum": -0.46, "type": "quantitative", "axis": null}, "text": {"field": "cos"}}}
]},
{"width": 211, "height": 208, "resolve": {"axis": {"x": "independent", "y": "independent"}}, "layer": [
{"data": {"name": "fit"}, "transform": [{"filter": "datum.p == 9"}], "mark": {"type": "line", "color": "#ff0000", "strokeWidth": 3, "interpolate": "monotone"},
 "encoding": {"x": {"field": "phi", "type": "quantitative", "scale": {"domain": [-180, 180], "nice": false, "zero": false}, "axis": {"orient": "bottom", "values": [-90, 0, 90], "tickSize": -8, "tickColor": "black", "domainColor": "black", "labels": true, "labelFontSize": 22, "labelFont": "Liberation Sans", "labelColor": "black", "labelPadding": 24, "labelFlush": false, "labelExpr": "replace(format(datum.value, '~g'), '\u2212', '-')", "grid": false, "title": null}},
  "y": {"field": "py", "type": "quantitative", "scale": {"domain": [-0.6, 0.6], "nice": false, "zero": false}, "axis": {"orient": "left", "values": [-0.6, -0.4, -0.2, 0, 0.2, 0.4, 0.6], "tickSize": -8, "tickColor": "black", "domainColor": "black", "labels": false, "grid": false, "title": null}}}},
{"data": {"name": "pts"}, "transform": [{"filter": "datum.p == 9"}], "mark": {"type": "errorbar", "color": "black", "thickness": 1.5},
 "encoding": {"x": {"field": "phi", "type": "quantitative", "axis": null}, "y": {"field": "py", "type": "quantitative", "axis": null}, "yError": {"field": "err"}}},
{"data": {"name": "pts"}, "transform": [{"filter": "datum.p == 9"}], "mark": {"type": "point", "shape": "circle", "filled": true, "fill": "white", "stroke": "black", "strokeWidth": 2, "size": 30, "opacity": 1},
 "encoding": {"x": {"field": "phi", "type": "quantitative", "axis": {"orient": "bottom", "values": [-170,-160,-150,-140,-130,-120,-110,-100,-90,-80,-70,-60,-50,-40,-30,-20,-10,0,10,20,30,40,50,60,70,80,90,100,110,120,130,140,150,160,170], "tickSize": -4, "tickColor": "black", "domain": false, "labels": false, "grid": false, "title": null}},
  "y": {"field": "py", "type": "quantitative", "axis": {"orient": "left", "values": [-0.56,-0.52,-0.48,-0.44,-0.4,-0.36,-0.32,-0.28,-0.24,-0.2,-0.16,-0.12,-0.08,-0.04,0,0.04,0.08,0.12,0.16,0.2,0.24,0.28,0.32,0.36,0.4,0.44,0.48,0.52,0.56], "tickSize": -4, "tickColor": "black", "domain": false, "labels": false, "grid": false, "title": null}}}},
{"data": {"name": "lab"}, "transform": [{"filter": "datum.p == 9"}], "mark": {"type": "text", "fontSize": 19, "font": "Liberation Sans", "color": "black", "baseline": "middle"},
 "encoding": {"x": {"datum": 48, "type": "quantitative", "axis": null}, "y": {"datum": 0.48, "type": "quantitative", "axis": null}, "text": {"field": "xi"}}},
{"data": {"name": "lab"}, "transform": [{"filter": "datum.p == 9"}], "mark": {"type": "text", "fontSize": 22, "font": "Liberation Sans", "color": "black", "baseline": "middle"},
 "encoding": {"x": {"datum": 0, "type": "quantitative", "axis": null}, "y": {"datum": -0.46, "type": "quantitative", "axis": null}, "text": {"field": "cos"}}}
]},
{"width": 211, "height": 208, "resolve": {"axis": {"x": "independent", "y": "independent"}}, "layer": [
{"data": {"name": "fit"}, "transform": [{"filter": "datum.p == 10"}], "mark": {"type": "line", "color": "#ff0000", "strokeWidth": 3, "interpolate": "monotone"},
 "encoding": {"x": {"field": "phi", "type": "quantitative", "scale": {"domain": [-180, 180], "nice": false, "zero": false}, "axis": {"orient": "bottom", "values": [-90, 0, 90], "tickSize": -8, "tickColor": "black", "domainColor": "black", "labels": true, "labelFontSize": 22, "labelFont": "Liberation Sans", "labelColor": "black", "labelPadding": 24, "labelFlush": false, "labelExpr": "replace(format(datum.value, '~g'), '\u2212', '-')", "grid": false, "title": null}},
  "y": {"field": "py", "type": "quantitative", "scale": {"domain": [-0.6, 0.6], "nice": false, "zero": false}, "axis": {"orient": "left", "values": [-0.6, -0.4, -0.2, 0, 0.2, 0.4, 0.6], "tickSize": -8, "tickColor": "black", "domainColor": "black", "labels": false, "grid": false, "title": null}}}},
{"data": {"name": "pts"}, "transform": [{"filter": "datum.p == 10"}], "mark": {"type": "errorbar", "color": "black", "thickness": 1.5},
 "encoding": {"x": {"field": "phi", "type": "quantitative", "axis": null}, "y": {"field": "py", "type": "quantitative", "axis": null}, "yError": {"field": "err"}}},
{"data": {"name": "pts"}, "transform": [{"filter": "datum.p == 10"}], "mark": {"type": "point", "shape": "circle", "filled": true, "fill": "white", "stroke": "black", "strokeWidth": 2, "size": 30, "opacity": 1},
 "encoding": {"x": {"field": "phi", "type": "quantitative", "axis": {"orient": "bottom", "values": [-170,-160,-150,-140,-130,-120,-110,-100,-90,-80,-70,-60,-50,-40,-30,-20,-10,0,10,20,30,40,50,60,70,80,90,100,110,120,130,140,150,160,170], "tickSize": -4, "tickColor": "black", "domain": false, "labels": false, "grid": false, "title": null}},
  "y": {"field": "py", "type": "quantitative", "axis": {"orient": "left", "values": [-0.56,-0.52,-0.48,-0.44,-0.4,-0.36,-0.32,-0.28,-0.24,-0.2,-0.16,-0.12,-0.08,-0.04,0,0.04,0.08,0.12,0.16,0.2,0.24,0.28,0.32,0.36,0.4,0.44,0.48,0.52,0.56], "tickSize": -4, "tickColor": "black", "domain": false, "labels": false, "grid": false, "title": null}}}},
{"data": {"name": "lab"}, "transform": [{"filter": "datum.p == 10"}], "mark": {"type": "text", "fontSize": 19, "font": "Liberation Sans", "color": "black", "baseline": "middle"},
 "encoding": {"x": {"datum": 48, "type": "quantitative", "axis": null}, "y": {"datum": 0.48, "type": "quantitative", "axis": null}, "text": {"field": "xi"}}},
{"data": {"name": "lab"}, "transform": [{"filter": "datum.p == 10"}], "mark": {"type": "text", "fontSize": 22, "font": "Liberation Sans", "color": "black", "baseline": "middle"},
 "encoding": {"x": {"datum": 0, "type": "quantitative", "axis": null}, "y": {"datum": -0.46, "type": "quantitative", "axis": null}, "text": {"field": "cos"}}}
]}
]
}
